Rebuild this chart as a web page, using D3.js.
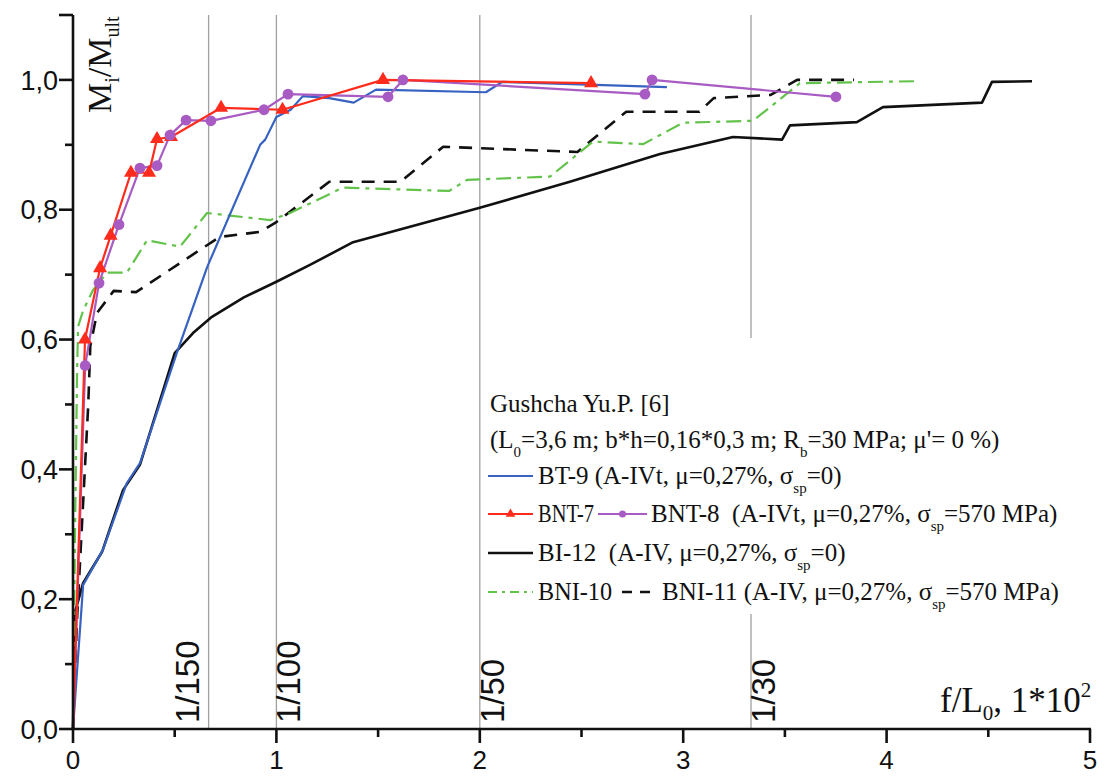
<!DOCTYPE html>
<html>
<head>
<meta charset="utf-8">
<script src="https://cdn.jsdelivr.net/npm/d3@7"></script>
<style>
  html, body { margin: 0; padding: 0; background: #fff; }
  svg { display: block; }
  text { white-space: pre; }
</style>
</head>
<body>
<svg id="chart" width="1106" height="778"></svg>
<script>
// ---------- data ----------
const xTicksMajor = [0, 1, 2, 3, 4, 5];
const xTicksMinor = [0.5, 1.5, 2.5, 3.5, 4.5];
const yTicksMajor = [0, 0.2, 0.4, 0.6, 0.8, 1.0];
const yTicksMinor = [0.1, 0.3, 0.5, 0.7, 0.9];
const yTickLabels = ["0,0", "0,2", "0,4", "0,6", "0,8", "1,0"];

const refValues = [2/3, 1, 2, 10/3];
const refLabels = ["1/150", "1/100", "1/50", "1/30"];

const BT9 = [[0,0],[0.02,0.09],[0.04,0.178],[0.05,0.222],[0.147,0.276],[0.265,0.379],[0.33,0.41],[0.51,0.579],[0.66,0.712],[0.92,0.9],[0.945,0.908],[1.0,0.943],[1.07,0.954],[1.13,0.975],[1.26,0.972],[1.38,0.965],[1.49,0.985],[2.03,0.981],[2.11,0.997],[2.92,0.989]];
const BNT7 = [[0,0],[0.059,0.6],[0.133,0.71],[0.185,0.76],[0.285,0.857],[0.374,0.857],[0.413,0.909],[0.482,0.912],[0.728,0.957],[1.03,0.954],[1.524,1.0],[2.547,0.995]];
const BNT8 = [[0,0],[0.06,0.56],[0.128,0.687],[0.226,0.777],[0.329,0.864],[0.413,0.868],[0.477,0.915],[0.556,0.938],[0.678,0.937],[0.939,0.954],[1.057,0.978],[1.549,0.974],[1.622,1.0],[2.812,0.978],[2.847,1.0],[3.751,0.974]];
const BI12 = [[0,0],[0.01,0.18],[0.05,0.225],[0.143,0.273],[0.246,0.368],[0.329,0.407],[0.5,0.579],[0.59,0.61],[0.683,0.635],[0.84,0.665],[1.0,0.689],[1.165,0.715],[1.377,0.75],[2.0,0.803],[2.443,0.843],[2.886,0.886],[3.245,0.912],[3.486,0.908],[3.525,0.93],[3.854,0.935],[3.982,0.958],[4.469,0.965],[4.518,0.997],[4.715,0.998]];
const BNI10 = [[0,0],[0.01,0.3],[0.02,0.55],[0.025,0.62],[0.05,0.645],[0.098,0.676],[0.167,0.703],[0.265,0.703],[0.364,0.753],[0.526,0.743],[0.659,0.795],[0.97,0.784],[1.067,0.795],[1.327,0.834],[1.85,0.829],[1.937,0.846],[2.345,0.851],[2.557,0.905],[2.802,0.901],[2.999,0.934],[3.343,0.937],[3.574,0.995],[4.15,0.998]];
const BNI11 = [[0,0],[0.02,0.17],[0.05,0.35],[0.075,0.5],[0.085,0.59],[0.118,0.641],[0.2,0.675],[0.31,0.673],[0.72,0.758],[0.92,0.766],[1.0,0.781],[1.26,0.843],[1.61,0.843],[1.82,0.897],[2.48,0.889],[2.72,0.951],[3.08,0.951],[3.15,0.972],[3.43,0.977],[3.56,1.0],[3.84,1.0]];

// ---------- setup ----------
const svg = d3.select("#chart");
const x = d3.scaleLinear().domain([0, 5]).range([73, 1090]);
const y = d3.scaleLinear().domain([0, 1.1]).range([729, 15]);
const SANS = "Arial, 'Liberation Sans', sans-serif";
const SERIF = "'Times New Roman', 'Liberation Serif', serif";

const colors = {
  blue: "#3762c2", red: "#ff2b1c", purple: "#a85bc3",
  black: "#111", green: "#62c24a"
};

// reference lines
const refG = svg.append("g");
refValues.forEach(v => {
  refG.append("line")
    .attr("x1", x(v)).attr("x2", x(v))
    .attr("y1", y(1.1)).attr("y2", y(0))
    .attr("stroke", "#a0a0a0").attr("stroke-width", 1.3);
});

// ref labels
const refOffsets = [-10, 24, 24, 24];
refValues.forEach((v, i) => {
  svg.append("text")
    .attr("transform", `translate(${x(v) + refOffsets[i]},${y(0) - 6}) rotate(-90)`)
    .attr("font-family", SANS).attr("font-size", 33)
    .attr("fill", "#111")
    .text(refLabels[i]);
});

// lines
const line = d3.line().x(d => x(d[0])).y(d => y(d[1]));
const plot = svg.append("g");
function drawSeries(data, color, width, dash) {
  plot.append("path").datum(data)
    .attr("d", line).attr("fill", "none")
    .attr("stroke", color).attr("stroke-width", width)
    .attr("stroke-linejoin", "round")
    .attr("stroke-dasharray", dash || null);
}
drawSeries(BI12, colors.black, 2.6);
drawSeries(BNI11, colors.black, 2.6, "13,9");
drawSeries(BNI10, colors.green, 2.2, "15,6,4,6");
drawSeries(BT9, colors.blue, 2.2);
drawSeries(BNT8, colors.purple, 2.2);
drawSeries(BNT7, colors.red, 2.2);

const tri = d3.symbol().type(d3.symbolTriangle).size(85);
plot.selectAll(".m7").data(BNT7.slice(1)).join("path")
  .attr("d", tri).attr("transform", d => `translate(${x(d[0])},${y(d[1])})`)
  .attr("fill", colors.red);
plot.selectAll(".m8").data(BNT8.slice(1)).join("circle")
  .attr("cx", d => x(d[0])).attr("cy", d => y(d[1])).attr("r", 5.4)
  .attr("fill", colors.purple);

// axes
const axG = svg.append("g").attr("stroke", "#111").attr("stroke-width", 2.6);
axG.append("line").attr("x1", x(0)).attr("x2", x(0)).attr("y1", y(1.1)).attr("y2", y(0) + 1);
axG.append("line").attr("x1", x(0) - 1).attr("x2", x(5) + 1).attr("y1", y(0)).attr("y2", y(0));
yTicksMajor.forEach(v => axG.append("line").attr("x1", x(0) - 14).attr("x2", x(0)).attr("y1", y(v)).attr("y2", y(v)));
yTicksMinor.forEach(v => axG.append("line").attr("x1", x(0) - 8).attr("x2", x(0)).attr("y1", y(v)).attr("y2", y(v)));
axG.append("line").attr("x1", x(0) - 14).attr("x2", x(0)).attr("y1", y(1.1)).attr("y2", y(1.1));
xTicksMajor.forEach(v => axG.append("line").attr("x1", x(v)).attr("x2", x(v)).attr("y1", y(0)).attr("y2", y(0) + 14));
xTicksMinor.forEach(v => axG.append("line").attr("x1", x(v)).attr("x2", x(v)).attr("y1", y(0)).attr("y2", y(0) + 8));

yTicksMajor.forEach((v, i) => {
  svg.append("text").attr("x", x(0) - 15).attr("y", y(v)).attr("dy", "0.36em")
    .attr("text-anchor", "end").attr("font-family", SANS).attr("font-size", 27)
    .attr("fill", "#111").text(yTickLabels[i]);
});
xTicksMajor.forEach(v => {
  svg.append("text").attr("x", x(v)).attr("y", 769)
    .attr("text-anchor", "middle").attr("font-family", SANS).attr("font-size", 26)
    .attr("fill", "#111").text(String(v));
});

// axis titles
const yt = svg.append("text")
  .attr("transform", `translate(111,113) rotate(-90)`)
  .attr("font-family", SERIF).attr("font-size", 34).attr("fill", "#111");
yt.append("tspan").text("M");
yt.append("tspan").attr("font-size", 20).attr("dy", 8).text("i");
yt.append("tspan").attr("dy", -8).text("/M");
yt.append("tspan").attr("font-size", 20).attr("dy", 8).text("ult");

const xt = svg.append("text").attr("x", 940).attr("y", 712)
  .attr("font-family", SERIF).attr("font-size", 35).attr("fill", "#111");
xt.append("tspan").text("f/L");
xt.append("tspan").attr("font-size", 21).attr("dy", 8).text("0");
xt.append("tspan").attr("dy", -8).text(", 1*10");
xt.append("tspan").attr("font-size", 21).attr("dy", -15).text("2");

// legend
const lg = svg.append("g");
lg.append("rect").attr("x", 485).attr("y", 338).attr("width", 615).attr("height", 276).attr("fill", "#fff");
const LF = 25;
function ltext(xp, yp, parts, len) {
  const t = lg.append("text").attr("x", xp).attr("y", yp)
    .attr("font-family", SERIF).attr("font-size", LF).attr("fill", "#111");
  if (len) t.attr("textLength", len).attr("lengthAdjust", "spacingAndGlyphs");
  let shift = 0;
  parts.forEach(p => {
    if (typeof p === "string") {
      t.append("tspan").attr("dy", -shift).text(p); shift = 0;
    } else {
      t.append("tspan").attr("font-size", 15).attr("dy", p.sub - shift).text(p.t); shift = p.sub;
    }
  });
  return t;
}
function lsample(x1, x2, yp, color, w, dash, marker) {
  lg.append("line").attr("x1", x1).attr("x2", x2).attr("y1", yp).attr("y2", yp)
    .attr("stroke", color).attr("stroke-width", w).attr("stroke-dasharray", dash || null);
  if (marker === "tri") lg.append("path").attr("d", d3.symbol().type(d3.symbolTriangle).size(40)())
    .attr("transform", `translate(${(x1 + x2) / 2},${yp})`).attr("fill", color);
  if (marker === "dot") lg.append("circle").attr("cx", (x1 + x2) / 2).attr("cy", yp).attr("r", 3.5).attr("fill", color);
}
ltext(490, 412, ["Gushcha Yu.P. [6]"]);
ltext(490, 448, ["(L", {t: "0", sub: 9}, "=3,6 m; b*h=0,16*0,3 m; R", {t: "b", sub: 9}, "=30 MPa; μ'= 0 %)"]);
lsample(488, 533, 476, colors.blue, 2);
ltext(538, 484, ["BT-9 (A-IVt, μ=0,27%, σ", {t: "sp", sub: 9}, "=0)"]);
lsample(488, 533, 514, colors.red, 2, null, "tri");
ltext(538, 522, ["BNT-7"], 56);
lsample(598, 647, 514, colors.purple, 2, null, "dot");
ltext(651, 522, ["BNT-8  (A-IVt, μ=0,27%, σ", {t: "sp", sub: 9}, "=570 MPa)"]);
lsample(488, 533, 553, colors.black, 2.6);
ltext(538, 561, ["BI-12  (A-IV, μ=0,27%, σ", {t: "sp", sub: 9}, "=0)"]);
lsample(488, 533, 592, colors.green, 2, "9,5,3,5");
ltext(538, 600, ["BNI-10"], 74);
lsample(622, 657, 592, colors.black, 2.6, "10,8");
ltext(662, 600, ["BNI-11 (A-IV, μ=0,27%, σ", {t: "sp", sub: 9}, "=570 MPa)"]);
</script>
</body>
</html>
